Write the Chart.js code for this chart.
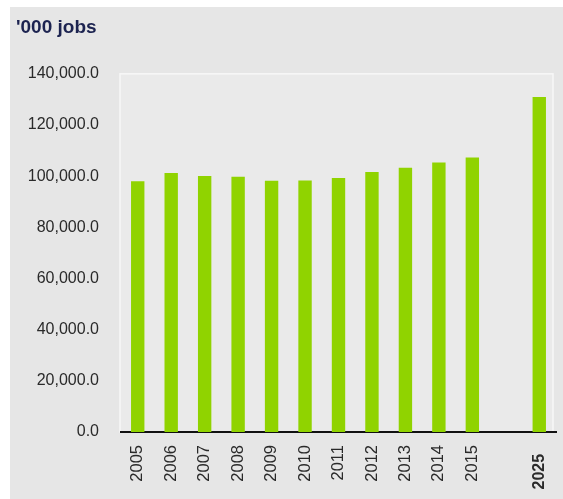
<!DOCTYPE html>
<html>
<head>
<meta charset="utf-8">
<title>'000 jobs</title>
<script src="https://cdn.jsdelivr.net/npm/chart.js@4"></script>
<style>
  html, body { margin: 0; padding: 0; background: #fff; }
  #wrap { width: 563px; height: 499px; position: relative; }
</style>
</head>
<body>
<div id="wrap"><canvas id="jobs"></canvas></div>
<script>
/* ── Data ────────────────────────────────────────── */
const years = ['2005', '2006', '2007', '2008', '2009', '2010', '2011', '2012', '2013', '2014', '2015', '', '2025'];
const jobs  = [98000, 101200, 100100, 99800, 98200, 98300, 99300, 101600, 103300, 105300, 107300, null, 130900];
const yTicks = [0, 20000, 40000, 60000, 80000, 100000, 120000, 140000];

/* ── Backdrop + plot frame ───────────────────────── */
const backdrop = {
  id: 'backdrop',
  beforeDraw(chart) {
    const { ctx, chartArea: a } = chart;
    ctx.save();
    ctx.fillStyle = '#fff';
    ctx.fillRect(0, 0, chart.width, chart.height);
    ctx.fillStyle = '#e6e6e6';
    ctx.fillRect(10, 7, chart.width - 10, chart.height - 7);
    ctx.fillStyle = '#eaeaea';
    ctx.fillRect(a.left - 1, a.top, a.right - a.left - 2, a.bottom - a.top);
    ctx.strokeStyle = '#f7f7f7';
    ctx.lineWidth = 1.5;
    ctx.strokeRect(a.left - 1, a.top, a.right - a.left - 2, a.bottom - a.top);
    ctx.restore();
  }
};

/* ── Chart ───────────────────────────────────────── */
new Chart(document.getElementById('jobs'), {
  type: 'bar',
  data: {
    labels: years,
    datasets: [{
      data: jobs,
      backgroundColor: '#90d300',
      barPercentage: 0.4,
      categoryPercentage: 1.0,
    }]
  },
  options: {
    responsive: true,
    maintainAspectRatio: false,
    animation: false,
    layout: { padding: { left: 16, right: 7, top: 0, bottom: 0 } },
    plugins: {
      legend: { display: false },
      tooltip: { enabled: false },
      title: {
        display: true,
        text: "'000 jobs",
        align: 'start',
        color: '#1c2350',
        font: { family: 'Liberation Sans, Arial', size: 19, weight: 'bold' },
        padding: { top: 16, bottom: 35 }
      }
    },
    scales: {
      x: {
        grid: { display: false },
        border: { display: true, color: '#111', width: 2 },
        ticks: {
          autoSkip: false,
          minRotation: 90,
          maxRotation: 90,
          padding: 5,
          color: '#2a2a2a',
          callback: (v, i) => years[i] === '2025' ? years[i] + '  ' : years[i],
          font: (c) => c.index === 12
            ? { family: 'Liberation Sans, Arial', size: 16, weight: 'bold' }
            : { family: 'Liberation Sans, Arial', size: 16.5 }
        },
        afterFit(scale) {
          scale.height = 67;
          scale.paddingLeft = 0;
          scale.paddingRight = 0;
        }
      },
      y: {
        min: 0,
        max: 140000,
        grid: { display: false },
        border: { display: false },
        afterBuildTicks(scale) { scale.ticks = yTicks.map(v => ({ value: v })); },
        ticks: {
          padding: 14,
          color: '#2a2a2a',
          font: { family: 'Liberation Sans, Arial', size: 16 },
          callback: v => v.toLocaleString('en-US', { minimumFractionDigits: 1, maximumFractionDigits: 1 })
        },
        afterFit(scale) { scale.width = 105; }
      }
    }
  },
  plugins: [backdrop]
});
</script>
</body>
</html>
